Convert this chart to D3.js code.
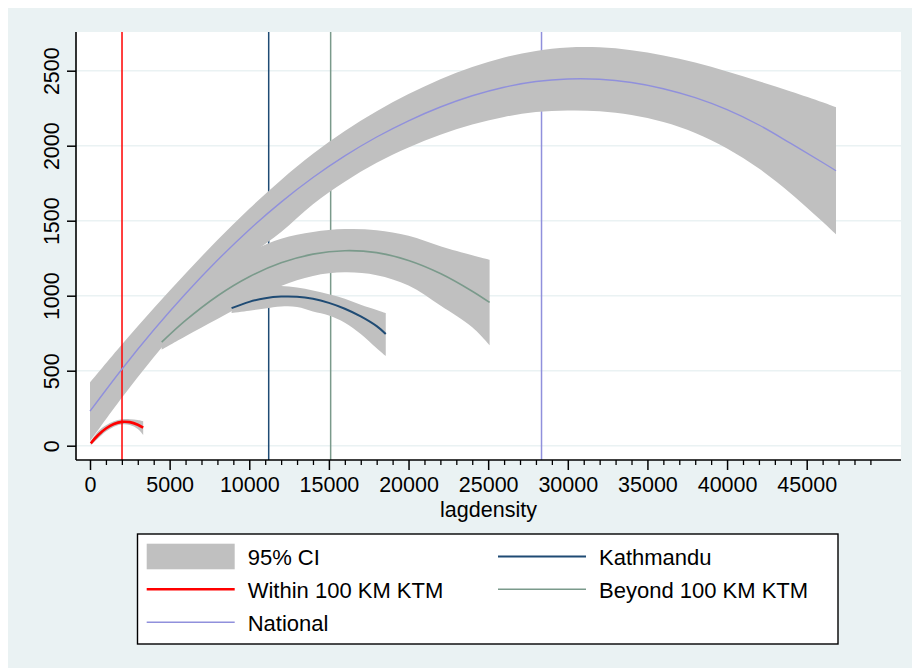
<!DOCTYPE html>
<html>
<head>
<meta charset="utf-8">
<script src="https://cdn.jsdelivr.net/npm/d3@7/dist/d3.min.js"></script>
<style>
  body { margin: 0; background: #ffffff; }
  text { font-family: "Liberation Sans", Arial, Helvetica, sans-serif; fill: #000; }
</style>
</head>
<body>
<svg id="chart" width="912" height="668"></svg>
<script>
// ---- data ----
// National fit (purple)
const natX   = [0, 2000, 4000, 6000, 8000, 10000, 12000, 14000, 16000, 18000, 20000, 22000, 24000, 26000, 28000, 30000, 32000, 34000, 36000, 38000, 40000, 42000, 44000, 46000, 46840];
const natFit = [230, 510, 771, 1013, 1236, 1440, 1624, 1788, 1932, 2058, 2166, 2258, 2333, 2390, 2428, 2445, 2443, 2421, 2380, 2320, 2240, 2138, 2015, 1888, 1833];
const natHi  = [422, 675, 916, 1148, 1371, 1580, 1772, 1946, 2098, 2230, 2344, 2443, 2525, 2588, 2632, 2655, 2656, 2637, 2602, 2555, 2495, 2430, 2362, 2290, 2257];
const natLo  = [30, 320, 590, 840, 1060, 1262, 1425, 1610, 1760, 1886, 1988, 2073, 2141, 2192, 2224, 2235, 2230, 2205, 2158, 2085, 1982, 1848, 1682, 1493, 1409];

// Beyond 100 KM KTM (grey green)
const beyX   = [4500, 6000, 8000, 10000, 12000, 14000, 16000, 18000, 20000, 22000, 24000, 25090];
const beyFit = [690, 835, 998, 1126, 1219, 1277, 1300, 1287, 1235, 1148, 1030, 955];
const beyHi  = [855, 1000, 1160, 1290, 1380, 1425, 1444, 1437, 1400, 1330, 1270, 1240];
const beyLo  = [640, 730, 845, 960, 1065, 1132, 1156, 1137, 1068, 935, 790, 670];

// Kathmandu (navy)
const ktmX   = [8890, 10000, 11000, 12000, 13000, 14000, 15000, 16000, 17000, 18000, 18570];
const ktmFit = [917, 959, 983, 994, 993, 979, 952, 913, 862, 797, 745];
const ktmHi  = [950, 1050, 1070, 1065, 1055, 1035, 1010, 980, 940, 905, 884];
const ktmLo  = [885, 900, 915, 928, 925, 895, 868, 820, 745, 650, 598];

// Within 100 KM KTM (red)
const witX   = [50, 500, 1000, 1500, 2000, 2500, 3000, 3340];
const witFit = [16, 70, 115, 145, 159, 157, 140, 120];
const witHi  = [30, 95, 137, 163, 176, 177, 171, 163];
const witLo  = [3, 48, 95, 127, 142, 138, 112, 72];

// vertical reference lines (mean density of each group)
const refLines = [
  { key: "ktm", value: 11220 },
  { key: "bey", value: 15110 },
  { key: "nat", value: 28350 },
  { key: "wit", value: 2010 }
];

const xTicks = [0, 5000, 10000, 15000, 20000, 25000, 30000, 35000, 40000, 45000];
const xMinor = d3.range(0, 50001, 1000);
const yTicks = [0, 500, 1000, 1500, 2000, 2500];

const colors = {
  nat: "#9090dc",
  bey: "#7a9a8b",
  ktm: "#1f4b74",
  wit: "#ff0000",
  ci: "#c0c0c0",
  bg: "#eaf2f3",
  grid: "#eaf2f3"
};

const legendItems = [
  { label: "95% CI", key: "ci", col: 0, row: 0 },
  { label: "Within 100 KM KTM", key: "wit", col: 0, row: 1 },
  { label: "National", key: "nat", col: 0, row: 2 },
  { label: "Kathmandu", key: "ktm", col: 1, row: 0 },
  { label: "Beyond 100 KM KTM", key: "bey", col: 1, row: 1 }
];

// ---- layout ----
const svg = d3.select("#chart");
const plot = { left: 76, right: 901, top: 32, bottom: 460 };

// outer graph region
svg.append("rect")
  .attr("x", 8).attr("y", 8)
  .attr("width", 904).attr("height", 660)
  .attr("fill", colors.bg);

// plot region
svg.append("rect")
  .attr("x", plot.left).attr("y", plot.top)
  .attr("width", plot.right - plot.left)
  .attr("height", plot.bottom - plot.top)
  .attr("fill", "#ffffff");

const x = d3.scaleLinear().domain([0, 45000]).range([90, 806.7]);
const y = d3.scaleLinear().domain([0, 2500]).range([445.7, 70.7]);

// grid lines
svg.append("g")
  .selectAll("line")
  .data(yTicks)
  .join("line")
  .attr("x1", plot.left).attr("x2", plot.right)
  .attr("y1", d => y(d)).attr("y2", d => y(d))
  .attr("stroke", colors.grid)
  .attr("stroke-width", 1.6);

const g = svg.append("g");

// vertical lines that sit under the bands
const refUnder = refLines.filter(d => d.key !== "wit");
g.selectAll(".ref")
  .data(refUnder)
  .join("line")
  .attr("class", "ref")
  .attr("x1", d => x(d.value)).attr("x2", d => x(d.value))
  .attr("y1", plot.top).attr("y2", plot.bottom)
  .attr("stroke", d => colors[d.key])
  .attr("stroke-width", 1.5);

// helper to zip arrays into point objects
function zip(xs, fit, lo, hi) {
  return xs.map((v, i) => ({ x: v, fit: fit[i], lo: lo[i], hi: hi[i] }));
}

const series = [
  { key: "nat", data: zip(natX, natFit, natLo, natHi), width: 1.4 },
  { key: "bey", data: zip(beyX, beyFit, beyLo, beyHi), width: 1.6 },
  { key: "ktm", data: zip(ktmX, ktmFit, ktmLo, ktmHi), width: 2 },
  { key: "wit", data: zip(witX, witFit, witLo, witHi), width: 2.6 }
];

const area = d3.area()
  .curve(d3.curveCatmullRom.alpha(0.5))
  .x(d => x(d.x))
  .y0(d => y(d.lo))
  .y1(d => y(d.hi));

const line = d3.line()
  .curve(d3.curveCatmullRom.alpha(0.5))
  .x(d => x(d.x))
  .y(d => y(d.fit));

// confidence bands
g.selectAll(".band")
  .data(series)
  .join("path")
  .attr("class", "band")
  .attr("d", d => area(d.data))
  .attr("fill", colors.ci);

// red reference line drawn over the bands
g.selectAll(".refTop")
  .data(refLines.filter(d => d.key === "wit"))
  .join("line")
  .attr("class", "refTop")
  .attr("x1", d => x(d.value)).attr("x2", d => x(d.value))
  .attr("y1", plot.top).attr("y2", plot.bottom)
  .attr("stroke", d => colors[d.key])
  .attr("stroke-width", 1.5);

// fitted lines
g.selectAll(".fit")
  .data(series)
  .join("path")
  .attr("class", "fit")
  .attr("d", d => line(d.data))
  .attr("fill", "none")
  .attr("stroke", d => colors[d.key])
  .attr("stroke-width", d => d.width);

// ---- axes ----
const xAxis = svg.append("g")
  .attr("transform", `translate(0,${plot.bottom})`)
  .call(d3.axisBottom(x).tickValues(xTicks).tickSize(10).tickPadding(7).tickFormat(d3.format("d")).tickSizeOuter(0));
xAxis.select(".domain").remove();
xAxis.selectAll("line").attr("stroke-width", 1.5);
xAxis.selectAll("text").style("font-size", "21.5px");

const xMinorAxis = svg.append("g")
  .attr("transform", `translate(0,${plot.bottom})`)
  .call(d3.axisBottom(x).tickValues(xMinor.filter(d => d % 5000 !== 0)).tickSize(5).tickFormat(""));
xMinorAxis.select(".domain").remove();
xMinorAxis.selectAll("line").attr("stroke-width", 1.3);

const yAxis = svg.append("g")
  .attr("transform", `translate(${plot.left},0)`)
  .call(d3.axisLeft(y).tickValues(yTicks).tickSize(9).tickFormat(d3.format("d")).tickSizeOuter(0));
yAxis.select(".domain").remove();
yAxis.selectAll("line").attr("stroke-width", 1.5);
yAxis.selectAll("text")
  .attr("x", null).attr("dy", null)
  .attr("text-anchor", "middle")
  .attr("transform", "translate(-17,0) rotate(-90)")
  .style("font-size", "21.5px");

// axis lines spanning the whole plot region
svg.append("line")
  .attr("x1", plot.left).attr("x2", plot.right)
  .attr("y1", plot.bottom).attr("y2", plot.bottom)
  .attr("stroke", "#000").attr("stroke-width", 1.6);
svg.append("line")
  .attr("x1", plot.left).attr("x2", plot.left)
  .attr("y1", plot.top).attr("y2", plot.bottom)
  .attr("stroke", "#000").attr("stroke-width", 1.6);

// axis title
svg.append("text")
  .attr("x", (plot.left + plot.right) / 2)
  .attr("y", 517)
  .attr("text-anchor", "middle")
  .style("font-size", "21.5px")
  .text("lagdensity");

// ---- legend ----
const legend = svg.append("g");
legend.append("rect")
  .attr("x", 137.5).attr("y", 534)
  .attr("width", 700.5).attr("height", 110)
  .attr("fill", "#ffffff")
  .attr("stroke", "#000")
  .attr("stroke-width", 1.4);

const colX = [146.7, 498];
const rowY = [556.5, 589.3, 622.3];
const keyW = 88;

const item = legend.selectAll(".item")
  .data(legendItems)
  .join("g")
  .attr("class", "item")
  .attr("transform", d => `translate(${colX[d.col]},${rowY[d.row]})`);

item.filter(d => d.key === "ci")
  .append("rect")
  .attr("x", 0).attr("y", -12.8)
  .attr("width", keyW).attr("height", 25.6)
  .attr("fill", colors.ci);

item.filter(d => d.key !== "ci")
  .append("line")
  .attr("x1", 0).attr("x2", keyW)
  .attr("y1", 0).attr("y2", 0)
  .attr("stroke", d => colors[d.key])
  .attr("stroke-width", d => series.find(s => s.key === d.key).width);

item.append("text")
  .attr("x", keyW + 13)
  .attr("y", 8.5)
  .style("font-size", "22px")
  .text(d => d.label);
</script>
</body>
</html>
